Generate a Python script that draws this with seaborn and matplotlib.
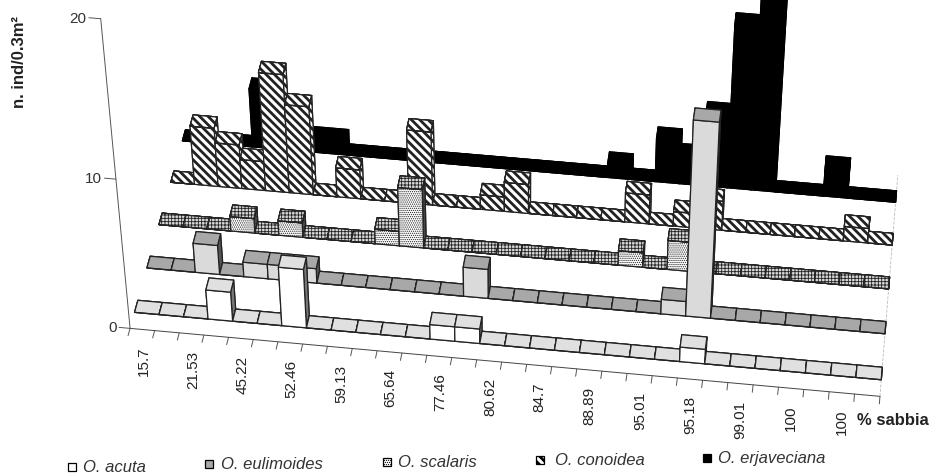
import numpy as np
import seaborn as sns
import matplotlib.pyplot as plt
from matplotlib.patches import Rectangle
from mpl_toolkits.mplot3d import proj3d

sample_labels = ["15.7", "21.53", "45.22", "52.46", "59.13", "65.64", "77.46", "80.62",
                 "84.7", "88.89", "95.01", "95.18", "99.01", "100", "100"]
species = ["O. acuta", "O. eulimoides", "O. scalaris", "O. conoidea", "O. erjaveciana"]

#            0  1  2  3  4  5  6  7  8  9 10 11 12 13 14 15 16 17 18 19 20 21 22 23 24 25 26 27 28 29
acuta =     [0, 0, 0, 2, 0, 0, 4, 0, 0, 0, 0, 0, 1, 1, 0, 0, 0, 0, 0, 0, 0, 0, 1, 0, 0, 0, 0, 0, 0, 0]
eulimoides = [0, 0, 2, 0, 1, 1, 1, 0, 0, 0, 0, 0, 0, 2, 0, 0, 0, 0, 0, 0, 0, 1, 13, 0, 0, 0, 0, 0, 0, 0]
scalaris =  [0, 0, 0, 1, 0, 1, 0, 0, 0, 1, 4, 0, 0, 0, 0, 0, 0, 0, 0, 1, 0, 2, 0, 0, 0, 0, 0, 0, 0, 0]
conoidea =  [0, 4, 3, 2, 8, 6, 0, 2, 0, 0, 5, 0, 0, 1, 2, 0, 0, 0, 0, 2, 0, 1, 2, 0, 0, 0, 0, 0, 1, 0]
erjaveciana = [0, 0, 0, 4, 0, 1, 1, 0, 0, 0, 0, 0, 0, 0, 0, 0, 0, 0, 1, 0, 3, 2, 5, 11, 13, 0, 0, 2, 0, 0]
rows = [acuta, eulimoides, scalaris, conoidea, erjaveciana]

# front, top, side colour + hatch of the body and of the top face
styles = [
    dict(front='white', top='#e0e0e0', side='#777777', hatch=None, top_hatch=None, lw=1.0),
    dict(front='#dadada', top='#a8a8a8', side='#555555', hatch=None, top_hatch=None, lw=1.0),
    dict(front='white', top='#d8d8d8', side='#555555', hatch='........', top_hatch='+++++', lw=0.6),
    dict(front='white', top='white', side='white', hatch='\\\\\\\\', top_hatch='\\\\\\\\', lw=2.0),
    dict(front='black', top='black', side='black', hatch=None, top_hatch=None, lw=1.0),
]

sns.set_theme(style="white")
plt.rcParams['font.family'] = ['Liberation Sans', 'DejaVu Sans']

fig = plt.figure(figsize=(9.31, 4.77), dpi=100)
ax = fig.add_axes([0.0652, -0.1813, 0.9645, 0.9645 * 931 / 477], projection='3d', computed_zorder=False)
ax.set_xlim(0, 30)
ax.set_ylim(0, 5)
ax.set_zlim(0, 20)
ax.set_box_aspect((1, 0.4264, 0.5472))
ax.view_init(elev=42.1846, azim=-82.8329)
ax.set_proj_type('persp', focal_length=0.814)
ax.set_axis_off()


def put_text(x, y, z, s, **kw):
    # text3d ignores rotation, so project by hand and place it in 2d
    px, py, _ = proj3d.proj_transform(x, y, z, ax.get_proj())
    ax.text2D(px, py, s, transform=ax.transData, **kw)


y_off = 0.3555
depth = 0.2685
z = 1
# axes first, they sit behind everything
ax.plot([0, 0], [0, 0], [0, 20], color='#555555', lw=0.7, zorder=z)
ax.plot([0, 30], [0, 0], [0, 0], color='#444444', lw=0.7, zorder=z)
ax.plot([30, 30], [0, 5], [0, 0], color='#bbbbbb', lw=0.6, ls='--', zorder=z)
for t in [0, 10, 20]:
    ax.plot([0, -0.45], [0, 0], [t, t], color='#555555', lw=0.7, zorder=z)
    put_text(-0.55, 0, t, str(t), ha='right', va='center', fontsize=11, color='#333333')
for i in range(31):
    ax.plot([i, i], [0, -0.16], [0, 0], color='#555555', lw=0.7, zorder=z)
for i, lab in enumerate(sample_labels):
    put_text(0.74 + 1.986 * i, -0.34, 0, lab, rotation=90, ha='center', va='top', fontsize=11, color='#222222')

# back row first, left to right, painter's order
for r in range(len(rows) - 1, -1, -1):
    st = styles[r]
    with plt.rc_context({'hatch.linewidth': st['lw']}):
        for i, v in enumerate(rows[r]):
            z += 1
            cols = [st['top'], st['top'], st['front'], st['top'], st['side'], st['side']]
            bar = ax.bar3d(i, r + y_off, 0, 1, depth, v, color=cols, shade=False,
                           edgecolor='black' if r == 4 else '#222222', linewidth=0.9, zorder=z)
            if st['hatch'] and v > 0:
                bar.set_hatch(st['hatch'])
            if st['top_hatch']:
                z += 1
                ax.bar3d(i, r + y_off, v, 1, depth, 0, color=st['top'], shade=False,
                         edgecolor='#222222', linewidth=0.9, hatch=st['top_hatch'], zorder=z)

# text outside the 3d box
fig.text(20 / 931, 1 - 62 / 477, "n. ind/0.3m²", rotation=90, fontsize=12, fontweight='bold',
         ha='center', va='center', color='#222222')
fig.text(857 / 931, 1 - 421 / 477, "% sabbia", fontsize=12, fontweight='bold', ha='left', va='center', color='#222222')

legend_x = [72, 209, 387, 540, 707]
legend_y = [468, 465, 463, 461, 459]
legend_text = [83, 221, 398, 555, 718]
for k, name in enumerate(species):
    st = styles[k]
    with plt.rc_context({'hatch.linewidth': st['lw']}):
        fig.add_artist(Rectangle((legend_x[k] / 931 - 0.0045, 1 - legend_y[k] / 477 - 0.009), 0.009, 0.0176,
                                 transform=fig.transFigure, facecolor=st['top'] if k == 1 else st['front'],
                                 edgecolor='black', lw=0.9, hatch=st['hatch']))
    fig.text(legend_text[k] / 931, 1 - legend_y[k] / 477, name, fontsize=12, style='italic',
             ha='left', va='center', color='#333333')

fig.savefig("out.png", dpi=100)
